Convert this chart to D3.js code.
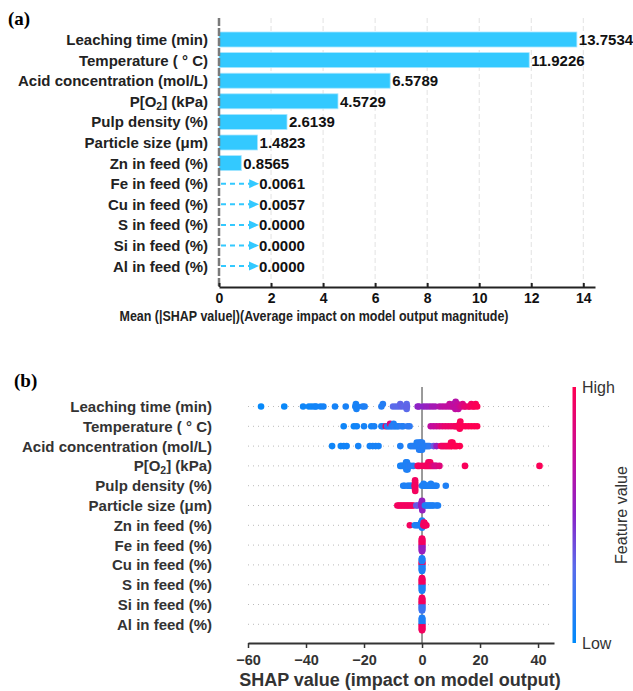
<!DOCTYPE html>
<html><head><meta charset="utf-8">
<script src="https://cdn.jsdelivr.net/npm/d3@7"></script>
<style>html,body{margin:0;padding:0;background:#fff;} svg{display:block;font-family:"Liberation Sans",Arial,sans-serif;}</style>
</head><body><svg id="c" width="633" height="691"></svg>
<script>
// ---------- DATA ----------
const features = ["Leaching time (min)","Temperature ( ° C)","Acid concentration (mol/L)","P[O₂] (kPa)","Pulp density (%)","Particle size (μm)","Zn in feed (%)","Fe in feed (%)","Cu in feed (%)","S in feed (%)","Si in feed (%)","Al in feed (%)"];
const meanAbsShap = [13.7534,11.9226,6.5789,4.5729,2.6139,1.4823,0.8565,0.0061,0.0057,0.0000,0.0000,0.0000];
const barLabels = ["13.7534","11.9226","6.5789","4.5729","2.6139","1.4823","0.8565","0.0061","0.0057","0.0000","0.0000","0.0000"];
const barTicks = [0,2,4,6,8,10,12,14];
const swarmTicks = [-60,-40,-20,0,20,40];

const shapLeaching = [-55.5,-47.5,-41,-39,-38,-37,-36.5,-35,-34,-30,-26.3,-23,-22.8,-22.6,-22.3,-20.5,-19.8,-14,-13.5,-10,-9,-8,-7.5,-7,-6,-5.5,-5.3,-5.3,-5.2,-1.5,-1,0.5,1.5,2.5,3.5,4.5,6,7,8,9,9.5,10,10.5,11,11.2,11.4,11.5,11.6,12,12.2,12.5,13,13.5,14,14.5,15,16,16.5,17,17.5,18,18.5,19];
const featLeaching = [0.02,0.03,0.05,0.05,0.05,0.06,0.06,0.06,0.07,0.07,0.08,0.08,0.08,0.08,0.08,0.1,0.1,0.12,0.12,0.3,0.3,0.3,0.32,0.32,0.3,0.32,0.3,0.3,0.32,0.5,0.52,0.5,0.55,0.55,0.6,0.6,0.65,0.68,0.7,0.7,0.72,0.7,0.72,0.68,0.7,0.72,0.7,0.66,0.7,0.72,0.7,0.75,0.78,0.82,0.85,0.88,0.9,0.92,0.95,0.96,0.97,0.98,0.99];
const shapTemp = [-27,-23.5,-22.5,-20,-17.5,-16.5,-14,-13.5,-12.5,-12,-11.5,-11,-11,-10.5,-10,-9.8,-9.5,-9,-8.5,-8,-7,-6.5,-5,-4.3,3,4,5,6,7,8,9,10,11,11.5,12,12.5,12.8,13,13,13.2,13.5,14,15,16,17,18,19];
const featTemp = [0.05,0.05,0.06,0.07,0.07,0.08,0.08,0.1,0.95,0.1,0.12,0.1,0.85,0.12,0.12,0.1,0.15,0.12,0.1,0.12,0.15,0.12,0.15,0.15,0.7,0.72,0.75,0.8,0.85,0.9,0.9,0.92,0.92,0.95,0.95,0.95,0.97,0.97,0.98,0.98,0.98,0.99,0.99,0.99,1,1,1];
const shapAcid = [-31,-28,-27,-26,-22,-18,-17,-16,-15,-7.5,-4,-3.5,-3,-2.5,-2,-1.8,-1.5,-1.2,-1,-1,-0.8,-0.5,-0.5,-0.3,0,0,0.3,0.5,1,1.5,2,2.5,4,5,6.5,7,7.5,8,8.5,9,9.5,10,10,10.3,10.5,11,11.5,12,13];
const featAcid = [0.05,0.05,0.06,0.06,0.07,0.07,0.08,0.08,0.08,0.1,0.1,0.1,0.12,0.12,0.12,0.1,0.12,0.1,0.12,0.12,0.12,0.12,0.12,0.12,0.12,0.12,0.12,0.12,0.12,0.12,0.12,0.15,0.35,0.55,0.9,0.92,0.93,0.95,0.95,0.96,0.97,0.98,0.98,0.98,0.99,0.99,1,1,1];
const shapPO2 = [-7.5,-7,-6.5,-6,-5.6,-5.5,-5.4,-5.3,-5.2,-5,-4.5,-4,-3,-1.5,-1,0,1,1.5,2,2.2,2.5,2.8,3,3.5,4,4.5,5,6,14.8,40.5];
const featPO2 = [0.08,0.08,0.1,0.1,0.1,0.1,0.1,0.1,0.1,0.1,0.12,0.12,0.12,0.95,0.95,0.95,0.95,0.95,0.95,0.95,0.95,0.95,0.95,0.9,0.85,0.8,0.8,0.85,0.97,0.98];
const shapPulp = [-6.5,-6,-5,-4.5,-4,-3.5,-2.5,-2.45,-2.4,-2.4,-2.4,-2.4,-2.4,-2.35,-2.3,0,0.5,0.55,1,1.5,1.55,2,2.5,3,3.05,3.5,4,4.5,5,8.2];
const featPulp = [0.1,0.1,0.1,0.1,0.1,0.1,0.95,0.95,0.95,0.95,0.95,0.95,0.95,0.95,0.95,0.1,0.1,0.1,0.1,0.1,0.1,0.1,0.1,0.1,0.1,0.1,0.1,0.1,0.1,0.1];
const shapPart = [-8.5,-8,-7.5,-7,-6.5,-6,-5.5,-5,-4.5,-4,-3.5,-3,-2,-1.5,-0.3,-0.2,-0.1,0,0,0,0,0.1,0.2,0.3,0.5,1,1.5,2,2.5,3,3.5,4,5,5.5];
const featPart = [0.95,0.95,0.95,0.95,0.95,0.95,0.95,0.95,0.95,0.95,0.95,0.95,0.35,0.35,0.55,0.55,0.55,0.55,0.55,0.55,0.55,0.55,0.55,0.55,0.55,0.1,0.1,0.1,0.1,0.1,0.1,0.1,0.1,0.1];
const shapZn = [-4.2,-2.5,-2,-1.5,-1,-0.5,-0.3,-0.3,-0.2,-0.2,-0.1,-0.1,0,0,0,0,0.5,0.6,0.6,0.7,0.7,0.8,0.8,1,1.2,1.5];
const featZn = [0.95,0.1,0.1,0.1,0.1,0.1,0.1,0.1,0.1,0.1,0.1,0.1,0.1,0.1,0.1,0.1,0.95,0.95,0.95,0.95,0.95,0.95,0.95,0.95,0.95,0.95];
const shapFe = [0,0,0,0,0,0,0,0,0,0,0,0,0,0,0,0,0,0,0,0,0,0,0,0];
const featFe = [0.55,0.95,0.55,0.95,0.55,0.95,0.55,0.95,0.55,0.95,0.55,0.95,0.55,0.95,0.55,0.95,0.55,0.95,0.55,0.95,0.55,0.95,0.55,0.95];
const shapCu = [0,0,0,0,0,0,0,0,0,0,0,0,0,0,0,0,0,0,0,0,0,0,0,0];
const featCu = [0.1,0.95,0.1,0.95,0.1,0.95,0.1,0.95,0.1,0.95,0.1,0.95,0.1,0.1,0.1,0.1,0.1,0.1,0.1,0.1,0.1,0.1,0.1,0.1];
const shapS = [0,0,0,0,0,0,0,0,0,0,0,0,0,0,0,0,0,0,0,0,0,0,0,0];
const featS = [0.1,0.95,0.1,0.95,0.1,0.95,0.1,0.95,0.1,0.95,0.1,0.95,0.1,0.95,0.1,0.95,0.1,0.95,0.1,0.95,0.1,0.95,0.1,0.95];
const shapSi = [0,0,0,0,0,0,0,0,0,0,0,0,0,0,0,0,0,0,0,0,0,0,0,0];
const featSi = [0.2,0.95,0.2,0.95,0.2,0.95,0.2,0.95,0.2,0.95,0.2,0.95,0.2,0.95,0.2,0.95,0.2,0.95,0.2,0.95,0.2,0.95,0.2,0.95];
const shapAl = [0,0,0,0,0,0,0,0,0,0,0,0,0,0,0,0,0,0,0,0,0,0,0,0];
const featAl = [0.95,0.1,0.95,0.1,0.95,0.1,0.95,0.1,0.95,0.1,0.95,0.1,0.95,0.1,0.95,0.1,0.95,0.1,0.95,0.1,0.95,0.1,0.95,0.1];

const swarmShap = [shapLeaching,shapTemp,shapAcid,shapPO2,shapPulp,shapPart,shapZn,shapFe,shapCu,shapS,shapSi,shapAl];
const swarmFeat = [featLeaching,featTemp,featAcid,featPO2,featPulp,featPart,featZn,featFe,featCu,featS,featSi,featAl];

// ---------- DRAW ----------
const svg = d3.select("#c");
const barColor = "#33c9ff";

function labelText(sel, s){
  if (s.includes("₂")){
    const [a,b] = s.split("₂");
    sel.append("tspan").text(a);
    sel.append("tspan").attr("font-size","10.5px").attr("dy","3").text("2");
    sel.append("tspan").attr("dy","-3").text(b);
  } else sel.text(s);
}

// Panel (a)
svg.append("text").attr("x",8).attr("y",25).attr("font-family","'Liberation Serif','Times New Roman',serif")
  .attr("font-weight","bold").attr("font-size","19px").attr("fill","#000").text("(a)");

const xA = d3.scaleLinear().domain([0,14.45]).range([219,595]);
const yA = d3.scalePoint().domain(features).range([39.5,266.1]);
const gA = svg.append("g");

gA.selectAll("line.grid").data(barTicks.slice(1)).join("line").attr("class","grid")
  .attr("x1",d=>xA(d)).attr("x2",d=>xA(d)).attr("y1",18).attr("y2",286)
  .attr("stroke","#e2e2e2").attr("stroke-width",1).attr("stroke-dasharray","5,3");

const barData = features.map((f,i)=>({f, v:meanAbsShap[i], lab:barLabels[i]}));
const big = barData.filter(d=>d.v>=0.1), small = barData.filter(d=>d.v<0.1);
gA.selectAll("rect.bar").data(big).join("rect").attr("class","bar")
  .attr("x",xA(0)).attr("y",d=>yA(d.f)-7.5).attr("width",d=>xA(d.v)-xA(0)).attr("height",15)
  .attr("fill",barColor).attr("stroke","#a8e6ff").attr("stroke-width",0.8);
gA.selectAll("text.val").data(big).join("text").attr("class","val")
  .attr("x",d=>xA(d.v)+2).attr("y",d=>yA(d.f)).attr("dy","0.36em")
  .attr("font-weight","bold").attr("font-size","15px").attr("fill","#111").text(d=>d.lab);
// arrows for tiny values
const arrowLen = 40;
gA.selectAll("line.arr").data(small).join("line").attr("class","arr")
  .attr("x1",xA(0)+2).attr("x2",d=>xA(d.v)+arrowLen-8).attr("y1",d=>yA(d.f)).attr("y2",d=>yA(d.f))
  .attr("stroke",barColor).attr("stroke-width",2).attr("stroke-dasharray","5,4");
gA.selectAll("path.head").data(small).join("path").attr("class","head")
  .attr("d",d=>{const x=xA(d.v)+arrowLen, y=yA(d.f); return `M${x},${y}L${x-10},${y-4.5}L${x-10},${y+4.5}Z`;})
  .attr("fill",barColor);
gA.selectAll("text.sval").data(small).join("text").attr("class","sval")
  .attr("x",d=>xA(d.v)+arrowLen).attr("y",d=>yA(d.f)).attr("dy","0.36em")
  .attr("font-weight","bold").attr("font-size","15px").attr("fill","#111").text(d=>d.lab);

gA.selectAll("text.lab").data(features).join("text").attr("class","lab")
  .attr("x",208).attr("y",d=>yA(d)).attr("dy","0.36em").attr("text-anchor","end")
  .attr("font-weight","bold").attr("font-size","15px").attr("fill","#222")
  .each(function(d){labelText(d3.select(this),d);});

gA.append("line").attr("x1",219).attr("x2",219).attr("y1",18).attr("y2",287)
  .attr("stroke","#7a7a7a").attr("stroke-width",2.5).attr("stroke-dasharray","8,2");

const axA = gA.append("g").attr("transform","translate(0,287)")
  .call(d3.axisBottom(xA).tickValues(barTicks).tickSize(-4).tickSizeOuter(0).tickPadding(6).tickFormat(d3.format("d")));
axA.select(".domain").attr("stroke","#222").attr("stroke-width",2);
axA.selectAll(".tick line").attr("stroke","#222").attr("stroke-width",2);
axA.selectAll(".tick text").attr("font-family","'Liberation Sans',Arial,sans-serif").attr("font-weight","bold").attr("font-size","14px").attr("fill","#111").attr("dy","0.71em");
gA.append("text").attr("x",314).attr("y",321).attr("text-anchor","middle")
  .attr("font-weight","bold").attr("font-size","14px").attr("fill","#222")
  .attr("textLength",389).attr("lengthAdjust","spacingAndGlyphs")
  .text("Mean (|SHAP value|)(Average impact on model output magnitude)");

// Panel (b)
svg.append("text").attr("x",14).attr("y",387).attr("font-family","'Liberation Serif','Times New Roman',serif")
  .attr("font-weight","bold").attr("font-size","19px").attr("fill","#000").text("(b)");

const xB = d3.scaleLinear().domain([-60,45.5]).range([248,554]);
const yB = d3.scalePoint().domain(features).range([406.5,624.3]);
const rowStep = yB.step();
const gB = svg.append("g");

gB.selectAll("line.row").data(features).join("line").attr("class","row")
  .attr("x1",248).attr("x2",553).attr("y1",d=>yB(d)).attr("y2",d=>yB(d))
  .attr("stroke","#bbb").attr("stroke-width",1).attr("stroke-dasharray","1,4");

gB.append("line").attr("x1",xB(0)).attr("x2",xB(0)).attr("y1",387).attr("y2",643)
  .attr("stroke","#999").attr("stroke-width",2);

const color = d3.scaleLinear().domain([0,0.3,0.5,0.72,1])
  .range(["#008bfb","#5b6aea","#8a24c8","#c40c9c","#ff0052"]).interpolate(d3.interpolateRgb);

function swarm(vals){
  const n = vals.length, mn = d3.min(vals), mx = d3.max(vals);
  const q = vals.map(v=>Math.round(100*(v-mn)/(mx-mn+1e-8)));
  const inds = d3.range(n).sort((a,b)=>q[a]-q[b]||a-b);
  const ys = new Array(n).fill(0);
  let layer=0, last=-1;
  for (const i of inds){
    if (q[i]!==last) layer=0;
    ys[i] = Math.ceil(layer/2)*((layer%2)*2-1);
    layer++; last=q[i];
  }
  const m = d3.max(ys.map(y=>y+1));
  return ys.map(y=>y*0.9*(0.4/m));
}

features.forEach((f,fi)=>{
  const vals = swarmShap[fi], fv = swarmFeat[fi];
  const ys = swarm(vals);
  const pts = vals.map((v,i)=>({x:xB(v), y:yB(f)-ys[i]*rowStep, c:color(fv[i])}));
  gB.append("g").selectAll("circle").data(pts).join("circle")
    .attr("cx",d=>d.x).attr("cy",d=>d.y).attr("r",3.3).attr("fill",d=>d.c);
});

gB.selectAll("text.lab").data(features).join("text").attr("class","lab")
  .attr("x",212).attr("y",d=>yB(d)).attr("dy","0.36em").attr("text-anchor","end")
  .attr("font-weight","bold").attr("font-size","15px").attr("fill","#333")
  .each(function(d){labelText(d3.select(this),d);});

const axB = gB.append("g").attr("transform","translate(0,643)")
  .call(d3.axisBottom(xB).tickValues(swarmTicks).tickSize(5).tickSizeOuter(0).tickPadding(5));
axB.select(".domain").attr("stroke","#333").attr("stroke-width",2);
axB.selectAll(".tick line").attr("stroke","#333").attr("stroke-width",1.5);
axB.selectAll(".tick text").attr("font-family","'Liberation Sans',Arial,sans-serif").attr("font-weight","bold").attr("font-size","14.5px").attr("fill","#333").attr("dy","0.85em");
gB.append("text").attr("x",400).attr("y",686).attr("text-anchor","middle")
  .attr("font-weight","bold").attr("font-size","18px").attr("fill","#333")
  .text("SHAP value (impact on model output)");

// colorbar
const defs = svg.append("defs");
const grad = defs.append("linearGradient").attr("id","cb").attr("x1",0).attr("x2",0).attr("y1",1).attr("y2",0);
d3.range(0,1.0001,0.05).forEach(t=>grad.append("stop").attr("offset",t).attr("stop-color",color(t)));
svg.append("rect").attr("x",572.5).attr("y",387).attr("width",3.5).attr("height",256).attr("fill","url(#cb)");
svg.append("text").attr("x",582).attr("y",393).attr("font-size","16px").attr("fill","#333").text("High");
svg.append("text").attr("x",582).attr("y",649).attr("font-size","16px").attr("fill","#333").text("Low");
svg.append("text").attr("transform","translate(627,515) rotate(-90)").attr("text-anchor","middle")
  .attr("font-size","16px").attr("fill","#333").text("Feature value");
</script></body></html>
